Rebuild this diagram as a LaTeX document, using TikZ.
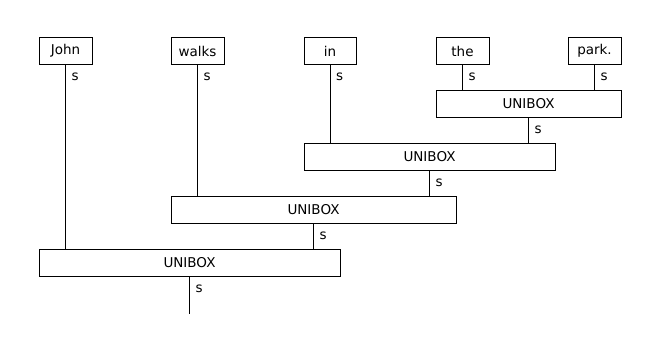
\documentclass[tikz,border=0pt]{standalone}
\usepackage{fontspec}
\setmainfont{DejaVu Sans}
\begin{document}
\begin{tikzpicture}[x=1pt,y=-1pt,
  wordbox/.style={draw,line width=1pt,minimum height=26pt,inner sep=0pt,font=\fontsize{13.5}{16}\selectfont},
  unibox/.style={draw,line width=1pt,minimum height=27pt,inner sep=0pt,font=\fontsize{13.5}{16}\selectfont},
  wire/.style={line width=1pt},
  lab/.style={anchor=base west,inner sep=0pt,font=\fontsize{13.5}{16}\selectfont}]
\useasboundingbox (0,0) rectangle (660,353);
\node[wordbox,minimum width=53pt] (john) at (65.5,51) {John};
\node[wordbox,minimum width=53pt] (walks) at (197.5,51) {walks};
\node[wordbox,minimum width=52pt] (in) at (330,51) {in};
\node[wordbox,minimum width=53pt] (the) at (462.5,51) {the};
\node[wordbox,minimum width=53pt] (park) at (594.5,51) {park.};
\node[unibox,minimum width=185pt] (u1) at (528.5,103.5) {UNIBOX};
\node[unibox,minimum width=251pt] (u2) at (429.5,156.5) {UNIBOX};
\node[unibox,minimum width=285pt] (u3) at (313.5,209.5) {UNIBOX};
\node[unibox,minimum width=301pt] (u4) at (189.5,262.5) {UNIBOX};
\coordinate (out) at (189.5,314);
\draw[wire] (the.south) -- (the.south |- u1.north);
\draw[wire] (park.south) -- (park.south |- u1.north);
\draw[wire] (in.south) -- (in.south |- u2.north);
\draw[wire] (u1.south) -- (u1.south |- u2.north);
\draw[wire] (walks.south) -- (walks.south |- u3.north);
\draw[wire] (u2.south) -- (u2.south |- u3.north);
\draw[wire] (john.south) -- (john.south |- u4.north);
\draw[wire] (u3.south) -- (u3.south |- u4.north);
\draw[wire] (u4.south) -- (out);
\foreach \n in {john,walks,in,the,park,u1,u2,u3,u4}
  \node[lab] at ([xshift=6pt,yshift=-15.5pt]\n.south) {s};
\end{tikzpicture}
\end{document}
